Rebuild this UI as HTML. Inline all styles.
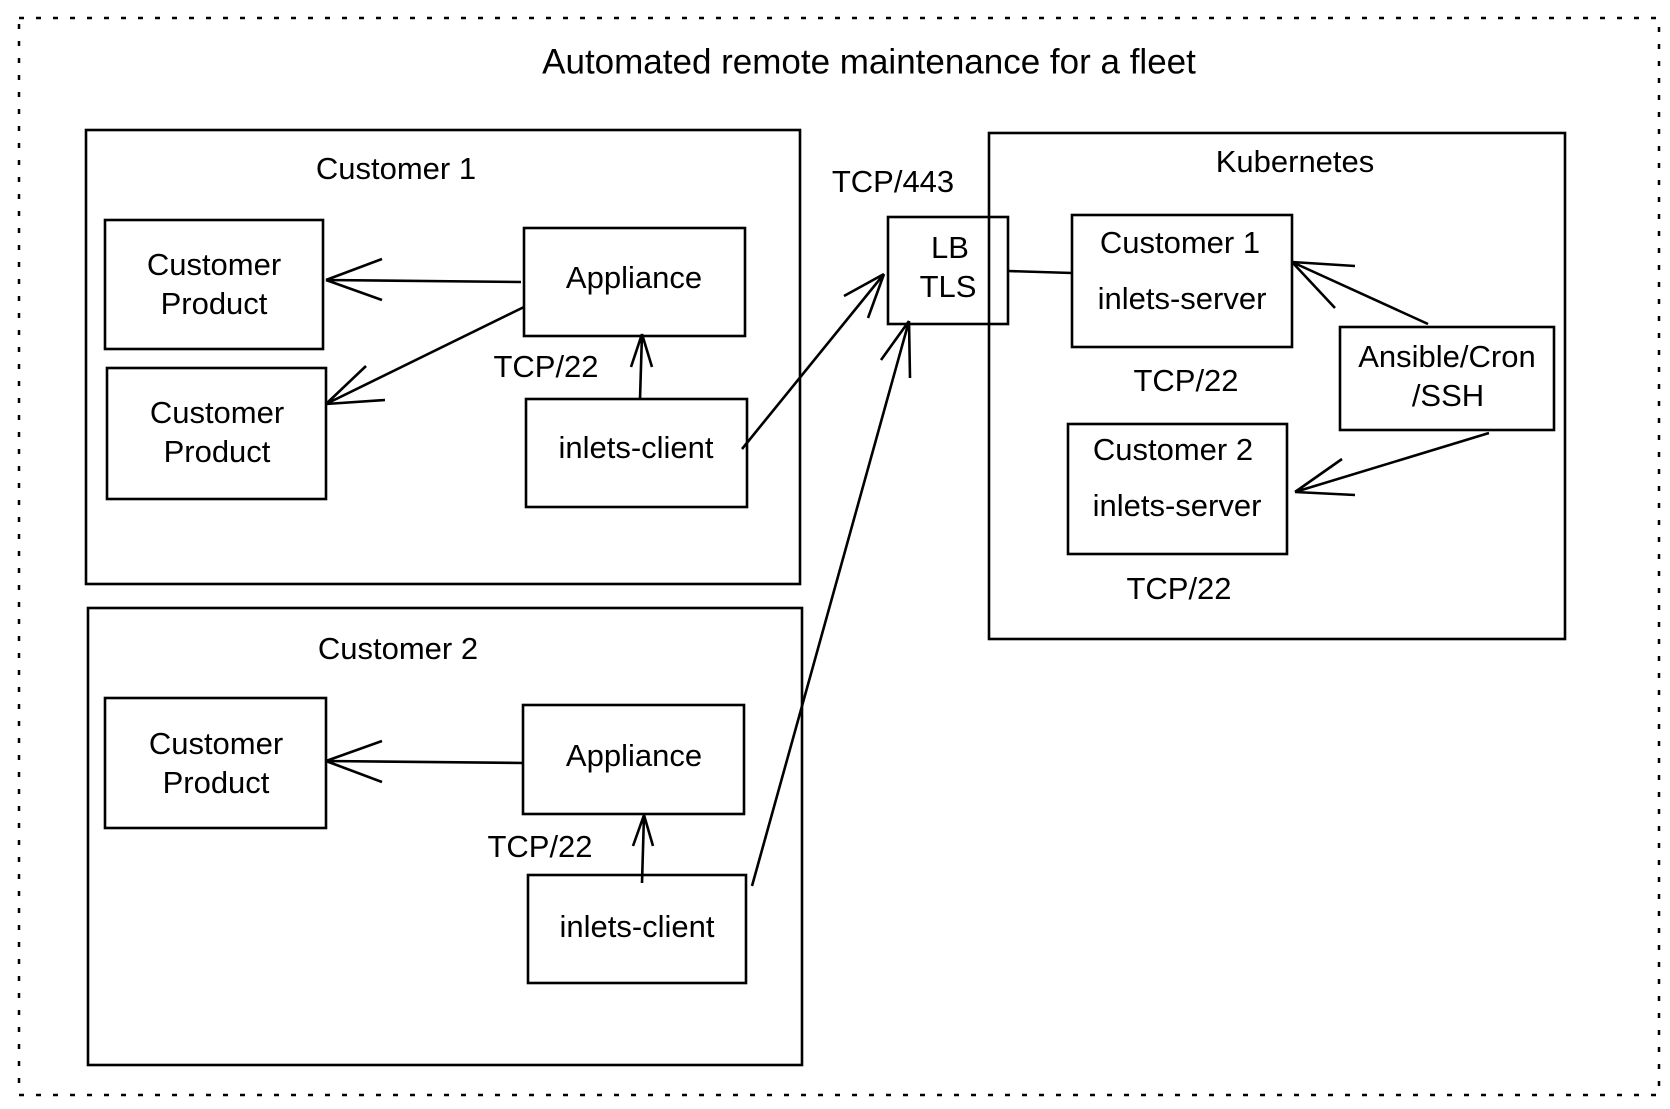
<!DOCTYPE html>
<html><head><meta charset="utf-8"><style>
html,body{margin:0;padding:0;background:#fff;}
svg{display:block;}
text{font-family:"Liberation Sans","DejaVu Sans",sans-serif;fill:#000;text-anchor:middle;dominant-baseline:middle;}
</style></head><body>
<svg width="1670" height="1109" viewBox="0 0 1670 1109" xmlns="http://www.w3.org/2000/svg">
<rect x="0" y="0" width="1670" height="1109" fill="#fff"/>
<rect x="19" y="18" width="1640" height="1077" fill="none" stroke="#000" stroke-width="2.5" stroke-dasharray="5 12"/>
<text x="869" y="64" font-size="35">Automated remote maintenance for a fleet</text>
<g fill="none" stroke="#000" stroke-width="2.6">
<rect x="86" y="130" width="714" height="454"/>
<rect x="105" y="220" width="218" height="129"/>
<rect x="107" y="368" width="219" height="131"/>
<rect x="524" y="228" width="221" height="108"/>
<rect x="526" y="399" width="221" height="108"/>
<rect x="88" y="608" width="714" height="457"/>
<rect x="105" y="698" width="221" height="130"/>
<rect x="523" y="705" width="221" height="109"/>
<rect x="528" y="875" width="218" height="108"/>
<rect x="888" y="217" width="120" height="107"/>
<rect x="989" y="133" width="576" height="506"/>
<rect x="1072" y="215" width="220" height="132"/>
<rect x="1068" y="424" width="219" height="130"/>
<rect x="1340" y="327" width="214" height="103"/>
<path d="M521 282 L326 280 M326 280 L382 259 M326 280 L382 300"/>
<path d="M524 307 L326 404 M326 404 L366 366 M326 404 L385 400"/>
<path d="M640 399 L642 334 M642 334 L631 367 M642 334 L652 367"/>
<path d="M742 449 L884 274 M884 274 L844 296 M884 274 L868 318"/>
<path d="M752 886 L909 321 M909 321 L881 360 M909 321 L910 378"/>
<path d="M1008 271 L1072 273"/>
<path d="M1428 324 L1292 262 M1292 262 L1355 266 M1292 262 L1335 308"/>
<path d="M1489 433 L1295 492 M1295 492 L1342 459 M1295 492 L1355 495"/>
<path d="M524 763 L326 761 M326 761 L382 741 M326 761 L382 782"/>
<path d="M642 883 L644 815 M644 815 L633 846 M644 815 L653 846"/>
</g>
<g font-size="31">
<text x="396" y="171">Customer 1</text>
<text x="214" y="267">Customer</text><text x="214" y="306">Product</text>
<text x="217" y="415">Customer</text><text x="217" y="454">Product</text>
<text x="634" y="280">Appliance</text>
<text x="636" y="450">inlets-client</text>
<text x="546" y="369">TCP/22</text>
<text x="398" y="651">Customer 2</text>
<text x="216" y="746">Customer</text><text x="216" y="785">Product</text>
<text x="634" y="758">Appliance</text>
<text x="637" y="929">inlets-client</text>
<text x="540" y="849">TCP/22</text>
<text x="893" y="184">TCP/443</text>
<text x="950" y="250">LB</text><text x="948" y="289">TLS</text>
<text x="1295" y="164">Kubernetes</text>
<text x="1180" y="245">Customer 1</text><text x="1182" y="301">inlets-server</text>
<text x="1186" y="383">TCP/22</text>
<text x="1173" y="452">Customer 2</text><text x="1177" y="508">inlets-server</text>
<text x="1179" y="591">TCP/22</text>
<text x="1447" y="359">Ansible/Cron</text><text x="1448" y="398">/SSH</text>
</g>
</svg>
</body></html>
